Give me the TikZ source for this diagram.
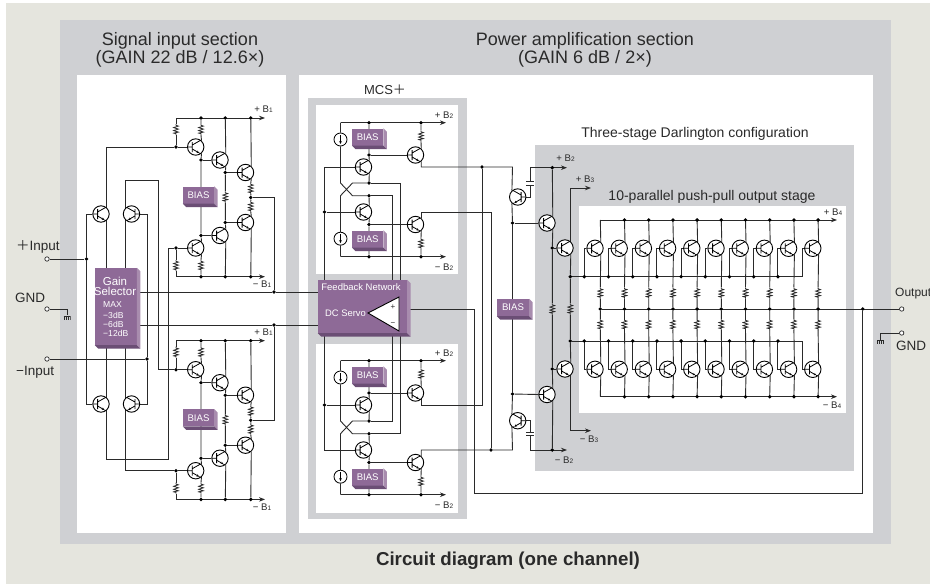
\documentclass[tikz,border=0pt]{standalone}
\usepackage{fontspec}
\setmainfont{Liberation Sans}
\newfontfamily\cjk{Noto Sans CJK JP}
\usetikzlibrary{arrows.meta}
\pgfdeclarelayer{panels}
\pgfdeclarelayer{wires}
\pgfsetlayers{panels,wires,main}
\definecolor{beige}{HTML}{E5E5DE}
\definecolor{panelgray}{HTML}{CFD0D3}
\definecolor{vio}{HTML}{8E6A97}
\definecolor{violt}{HTML}{A88CAE}
\definecolor{viodk}{HTML}{6B4E75}
\definecolor{ink}{HTML}{2A2A2A}
\tikzset{
  wire/.style={line width=.9pt,draw=ink},
  rail/.style={wire,-{Stealth[length=6pt,width=4.5pt]}},
  jn/.style={circle,fill=black,inner sep=0pt,minimum size=3.8pt},
  trans/.style={circle,draw=black,fill=white,line width=.9pt,inner sep=0pt,minimum size=16.4pt,
    path picture={
      \draw[line width=.8pt] (#1*-3.4,-5) -- (#1*-3.4,5) (#1*-8,0) -- (#1*-3.4,0) (#1*-3.4,-2) -- (#1*5.4,-7);
      \draw[line width=.8pt,-{Stealth[length=2.6pt,width=2.4pt]}] (#1*-3.4,2) -- (#1*3.4,5.9);
      \draw[line width=.8pt] (#1*3.4,5.9) -- (#1*5.4,7);
    }},
  res/.style={inner sep=0pt,minimum width=7pt,minimum height=11pt,
    path picture={
      \draw[line width=.8pt,draw=ink] (0,-5.5) -- (0,-4.2) -- (2.4,-3.4) -- (-2.4,-1.9) -- (2.4,-.4) -- (-2.4,1.1)
        -- (2.4,2.6) -- (-2.4,3.6) -- (0,4.2) -- (0,5.5);
    }},
  capv/.style={inner sep=0pt,minimum width=8pt,minimum height=4pt,
    path picture={\draw[line width=.9pt,draw=ink] (-4,-1.6) -- (4,-1.6) (-4,1.6) -- (4,1.6);}},
  csrc/.style={circle,draw=black,fill=white,line width=.8pt,inner sep=0pt,minimum size=13pt,
    path picture={\draw[line width=.8pt,-{Stealth[length=3pt,width=2.6pt]}] (0,-4.5) -- (0,4.5);}},
  term/.style={circle,draw=ink,fill=white,line width=.7pt,inner sep=0pt,minimum size=4.4pt},
  gnd/.style={inner sep=0pt,minimum width=7pt,minimum height=4pt,
    path picture={\draw[line width=.7pt,draw=ink] (-3.5,-1.6) -- (3.5,-1.6) (-3,-1.6) -- (-3,2) (-1,-1.6) -- (-1,2)
      (1,-1.6) -- (1,2) (3,-1.6) -- (3,2);}},
  biasbox/.style={fill=vio,text=white,inner sep=0pt,minimum width=31pt,minimum height=17pt,
    font=\fontsize{9.6}{10}\selectfont},
  lbl/.style={inner sep=0pt,text=ink,font=\fontsize{#1}{#1}\selectfont},
  wlbl/.style={inner sep=0pt,text=white,font=\fontsize{#1}{#1}\selectfont},
  bus/.style={lbl=9.6},
}
\newcommand{\bevel}[1]{%
  \fill[violt] (#1.north east) -- ++(3.5,3.5) -- ([shift={(3.5,3.5)}]#1.south east) -- (#1.south east) -- cycle;
  \fill[viodk] (#1.south west) -- ([shift={(3.5,3.5)}]#1.south west) -- ([shift={(3.5,3.5)}]#1.south east) -- (#1.south east) -- cycle;
}
\newcommand{\busl}[2]{#1 B{\fontsize{6.5}{6.5}\selectfont #2}}
\begin{document}
\begin{tikzpicture}[x=1pt,y=-1pt]
  \useasboundingbox (0,0) rectangle (930,584);
  \begin{pgfonlayer}{panels}
    \fill[white] (0,0) rectangle (930,584);
    \fill[beige] (6,3) rectangle (930,584);
    \fill[panelgray] (60,20) rectangle (891,544);
    \fill[white] (77,75) rectangle (286,533);
    \fill[white] (299,75) rectangle (873,533);
    \fill[panelgray] (308,98) rectangle (467,519);
    \fill[white] (316,105) rectangle (458,274);
    \fill[white] (316,344) rectangle (458,513);
    \fill[panelgray] (535,145) rectangle (854,471);
    \fill[white] (579,206) rectangle (846,413);
  \end{pgfonlayer}

  % titles
  \node[lbl=18] (tsig) at (180,41) {Signal input section};
  \node[lbl=18] (tsiggain) at (180,59) {(GAIN 22 dB / 12.6×)};
  \node[lbl=18] (tpow) at (585,41) {Power amplification section};
  \node[lbl=18] (tpowgain) at (585,59) {(GAIN 6 dB / 2×)};
  \node[lbl=13] (tmcs) at (385,90) {MCS{\cjk ＋}};
  \node[lbl=14] (tdar) at (695,134) {Three-stage Darlington configuration};
  \node[lbl=14] (tpar) at (712,197) {10-parallel push-pull output stage};
  \node[inner sep=0pt,text=ink,font=\fontsize{18.7}{19}\selectfont\bfseries] (tcap) at (508,561) {Circuit diagram (one channel)};

  % signal input: two amp modules
  \foreach \nm/\sh in {ampa/0,ampb/222.7}{
    \begin{scope}[shift={(0,\sh)},name prefix=\nm-]
      \node[trans=1] (q1) at (195.7,147) {};
      \node[trans=1] (q2) at (220,160) {};
      \node[trans=1] (q3) at (245.5,172.5) {};
      \node[trans=1] (q4) at (245.5,222.5) {};
      \node[trans=1] (q5) at (220,235.5) {};
      \node[trans=1] (q6) at (195.7,248) {};
      \node[biasbox] (bias) at (198.5,195) {BIAS};
      \bevel{bias}
      \coordinate (rt) at (176,118);
      \coordinate (tipt) at (265,118);
      \coordinate (rb) at (176,276.7);
      \coordinate (tipb) at (265,276.7);
      \node[jn] (jt1) at (201,118) {};
      \node[jn] (jt2) at (225.3,118) {};
      \node[jn] (jt3) at (250.8,118) {};
      \node[jn] (jb1) at (201,276.7) {};
      \node[jn] (jb2) at (225.3,276.7) {};
      \node[jn] (jb3) at (250.8,276.7) {};
      \node[jn] (jbase1) at (176,147) {};
      \node[jn] (jbase6) at (176,248) {};
      \node[jn] (j1) at (201,160) {};
      \node[jn] (j6) at (201,235.5) {};
      \node[jn] (j2) at (225.3,172.5) {};
      \node[jn] (j5) at (225.3,222.5) {};
      \node[jn] (jmid) at (250.8,197.5) {};
      \node[res] (r1) at (176,129.5) {};
      \node[res] (r2) at (201,129.5) {};
      \node[res] (r3) at (176,265.5) {};
      \node[res] (r4) at (201,265.5) {};
      \node[res] (r5) at (225.3,197) {};
      \node[res] (r6) at (250.8,188.5) {};
      \node[res] (r7) at (250.8,206.5) {};
      \node[bus] (lt) at (263.5,109.5) {\busl{+}{1}};
      \node[bus] (lb) at (262,284.5) {\busl{−}{1}};
      \begin{pgfonlayer}{wires}
        \draw[rail] (rt) -- (tipt);
        \draw[rail] (rb) -- (tipb);
        \draw[wire] (rt) -- (r1.north) (r1.south) -- (jbase1) -- (q1.west);
        \draw[wire] (jt1) -- (r2.north) (r2.south) -- (q1.48);
        \draw[wire] (q1.-48) -- (j1) -- (j6) -- (q6.48);
        \draw[wire] (j1) -- (q2.west);
        \draw[wire] (jt2) -- (q2.48);
        \draw[wire] (q2.-48) -- (j2) -- (r5.north) (r5.south) -- (j5) -- (q5.48);
        \draw[wire] (q5.-48) -- (jb2);
        \draw[wire] (j2) -- (q3.west);
        \draw[wire] (j5) -- (q4.west);
        \draw[wire] (j6) -- (q5.west);
        \draw[wire] (jt3) -- (q3.48);
        \draw[wire] (q3.-48) -- (r6.north) (r6.south) -- (jmid) -- (r7.north) (r7.south) -- (q4.48);
        \draw[wire] (q4.-48) -- (jb3);
        \draw[wire] (q6.-48) -- (r4.north) (r4.south) -- (jb1);
        \draw[wire] (jbase6) -- (q6.west);
        \draw[wire] (jbase6) -- (r3.north) (r3.south) -- (rb);
      \end{pgfonlayer}
    \end{scope}
  }

  % input pair and selector
  \node[trans=1] (qia) at (101,214) {};
  \node[trans=-1] (qib) at (131.5,214) {};
  \node[trans=1] (qic) at (101,404) {};
  \node[trans=-1] (qid) at (131.5,404) {};
  \node[fill=vio,inner sep=0pt,minimum width=41.7pt,minimum height=77pt] (gain) at (115.85,306.5) {};
  \bevel{gain}
  \node[wlbl=11.5] (gaina) at (115,281) {Gain};
  \node[wlbl=11.5] (gainb) at (115,291) {Selector};
  \node[wlbl=8.6,anchor=west] (gainc) at (103,305) {MAX};
  \node[wlbl=8.6,anchor=west] (gaind) at (103,315) {−3dB};
  \node[wlbl=8.6,anchor=west] (gaine) at (103,324) {−6dB};
  \node[wlbl=8.6,anchor=west] (gainf) at (103,333) {−12dB};
  \node[jn] (jinp) at (86.5,259) {};
  \node[jn] (jinn) at (147,359) {};
  \node[term] (tinp) at (47,259) {};
  \node[term] (tinn) at (47,359) {};
  \node[term] (tgndl) at (47,309) {};
  \node[gnd] (gndl) at (67,317.5) {};
  \node[lbl=13.5,anchor=west] (linp) at (16,247) {{\cjk ＋}Input};
  \node[lbl=13.5,anchor=west] (lgndl) at (15,298) {GND};
  \node[lbl=13.5,anchor=west] (linn) at (16,372) {−Input};
  \coordinate (cba) at (158,180);
  \coordinate (cca) at (168,459);
  \node[jn] (jsum1) at (274,292) {};
  \node[jn] (jsum2) at (274,325) {};

  % mcs modules
  \foreach \nm/\sh in {mcsa/0,mcsb/238}{
    \begin{scope}[shift={(0,\sh)},name prefix=\nm-]
      \node[trans=1] (qa) at (363.5,167) {};
      \node[trans=1] (qb) at (363.5,212) {};
      \node[trans=1] (qc) at (415.5,155) {};
      \node[trans=1] (qd) at (415.5,224.5) {};
      \node[csrc] (cs1) at (340.5,139.5) {};
      \node[csrc] (cs2) at (340.5,238.7) {};
      \node[biasbox] (bias1) at (367.7,137) {BIAS};
      \bevel{bias1}
      \node[biasbox] (bias2) at (367.7,239) {BIAS};
      \bevel{bias2}
      \coordinate (rt) at (340.5,122.7);
      \coordinate (tipt) at (446,122.7);
      \coordinate (rb) at (340.5,256.7);
      \coordinate (tipb) at (446,256.7);
      \node[jn] (jt1) at (369,122.7) {};
      \node[jn] (jt2) at (421,122.7) {};
      \node[jn] (jb1) at (369,256.7) {};
      \node[jn] (jb2) at (421,256.7) {};
      \node[jn] (jc) at (369,155) {};
      \node[jn] (jd) at (369,224.5) {};
      \node[jn] (jx1) at (369,183) {};
      \node[jn] (jx2) at (369,195.7) {};
      \coordinate (xa) at (340.5,183);
      \coordinate (xb) at (352.5,195.7);
      \coordinate (xc) at (340.5,195.7);
      \coordinate (xd) at (352.5,183);
      \node[res] (rc) at (421,136) {};
      \node[res] (rd) at (421,243.5) {};
      \node[bus] (lt) at (444,115.5) {\busl{+}{2}};
      \node[bus] (lb) at (444,267.5) {\busl{−}{2}};
      \begin{pgfonlayer}{wires}
        \draw[rail] (rt) -- (tipt);
        \draw[rail] (rb) -- (tipb);
        \draw[wire] (rt) -- (cs1) -- (xa) -- (xb) -- (jx2);
        \draw[wire] (rb) -- (cs2) -- (xc) -- (xd) -- (jx1);
        \draw[wire] (jt1) -- (jc) -- (qa.48);
        \draw[wire] (jc) -- (qc.west);
        \draw[wire] (qa.-48) -- (jx1);
        \draw[wire] (jx2) -- (qb.48);
        \draw[wire] (qb.-48) -- (jd) -- (jb1);
        \draw[wire] (jd) -- (qd.west);
        \draw[wire] (jt2) -- (rc.north) (rc.south) -- (qc.48);
        \draw[wire] (qd.-48) -- (rd.north) (rd.south) -- (jb2);
      \end{pgfonlayer}
    \end{scope}
  }

  % feedback block
  \node[fill=vio,inner sep=0pt,minimum width=89pt,minimum height=53pt] (fb) at (362.5,306.5) {};
  \bevel{fb}
  \node[wlbl=9.5] (fbtxt) at (361,286.7) {Feedback Network};
  \node[wlbl=9.4] (dcs) at (345.5,313) {DC Servo};
  \draw[fill=white,draw=black,line width=.9pt] (368,313) -- (399,297) -- (399,331) -- cycle;
  \node[lbl=8] (fbp) at (393,307) {+};
  \node[lbl=8] (fbm) at (393,324) {−};
  \coordinate (fbt) at (400,300);
  \coordinate (fbs) at (392,300);
  \node[jn] (jba) at (324.5,212) {};
  \node[jn] (jbb) at (324.5,405) {};

  % drivers
  \node[trans=-1] (qp) at (517.7,197) {};
  \node[trans=-1] (qq) at (517.7,420.7) {};
  \node[capv] (capa) at (530,183.4) {};
  \node[capv] (capb) at (530,433.7) {};
  \node[biasbox,minimum width=32pt] (biasm) at (513,307.5) {BIAS};
  \bevel{biasm}
  \node[jn] (j482) at (482,167) {};
  \node[jn] (j491) at (491,450) {};
  \node[jn] (jdrv1) at (512.5,223) {};
  \node[jn] (jdrv2) at (512.5,394) {};
  \coordinate (c482) at (482,405.2);
  \coordinate (c491) at (491,212);
  \coordinate (cdrt) at (512.5,167);
  \coordinate (cdrb) at (512.5,450);
  \coordinate (c530t) at (530,167.7);
  \coordinate (c530b) at (530,450);
  \coordinate (tipb2t) at (567,167.7);
  \coordinate (tipb2b) at (567,450);
  \coordinate (tipb3t) at (591,188);
  \coordinate (tipb3b) at (591,430.7);
  \node[trans=1] (qo1) at (547,223) {};
  \node[trans=1] (qo2) at (547,394.5) {};
  \node[trans=1] (qo3) at (565,248) {};
  \node[trans=1] (qo4) at (565,369) {};
  \node[jn] (jp2) at (552.3,167.7) {};
  \node[jn] (jn2) at (552.3,450) {};
  \node[jn] (jo1) at (552.3,248) {};
  \node[jn] (jo2) at (552.3,369) {};
  \node[jn] (jo3) at (570.3,276.7) {};
  \node[jn] (jo4) at (570.3,341) {};
  \node[res] (ro1) at (552.3,309) {};
  \node[res] (ro2) at (570.3,309) {};
  \node[bus] (lb2p) at (565.5,157.7) {\busl{+}{2}};
  \node[bus] (lb3p) at (585,179.3) {\busl{+}{3}};
  \node[bus] (lb3n) at (589,439) {\busl{−}{3}};
  \node[bus] (lb2n) at (564,460) {\busl{−}{2}};
  \node[bus] (lb4p) at (833,212) {\busl{+}{4}};
  \node[bus] (lb4n) at (832,405) {\busl{−}{4}};

  % output stage
  \foreach \i in {0,...,9}{
    \pgfmathsetmacro{\xq}{595+24.2*\i}
    \pgfmathsetmacro{\xe}{600.3+24.2*\i}
    \pgfmathsetmacro{\xb}{584.3+24.2*\i}
    \node[trans=1] (qu\i) at (\xq,248.3) {};
    \node[trans=1] (ql\i) at (\xq,369.3) {};
    \node[res] (ru\i) at (\xe,293) {};
    \node[res] (rl\i) at (\xe,324.5) {};
    \coordinate (jt\i) at (\xe,220);
    \coordinate (jb\i) at (\xe,396.7);
    \coordinate (ju\i) at (\xb,276.7);
    \coordinate (jl\i) at (\xb,341);
    \node[jn] (jm\i) at (\xe,309) {};
    \begin{pgfonlayer}{wires}
      \draw[wire] (jt\i) -- (qu\i.48);
      \draw[wire] (qu\i.-48) -- (ru\i.north) (ru\i.south) -- (jm\i) -- (rl\i.north) (rl\i.south) -- (ql\i.48);
      \draw[wire] (ql\i.-48) -- (jb\i);
      \draw[wire] (qu\i.west) -| (ju\i);
      \draw[wire] (ql\i.west) -| (jl\i);
    \end{pgfonlayer}
  }
  \foreach \i in {1,...,9}{
    \node[jn] (dt\i) at (jt\i) {};
    \node[jn] (db\i) at (jb\i) {};
  }
  \foreach \i in {0,...,8}{
    \node[jn] (du\i) at (ju\i) {};
    \node[jn] (dl\i) at (jl\i) {};
  }
  \coordinate (tipb4t) at (837,220);
  \coordinate (tipb4b) at (837,396.7);
  \node[jn] (jout) at (862.7,309) {};
  \node[term] (tout) at (901.7,309) {};
  \node[term] (tgndr) at (901.7,333) {};
  \node[gnd] (gndr) at (880.7,342) {};
  \node[lbl=12,anchor=west] (lout) at (895,294) {Output};
  \node[lbl=13.5,anchor=west] (lgndr) at (896,346) {GND};
  \coordinate (cfb) at (474.5,493);

  \begin{pgfonlayer}{wires}
    % input wiring
    \draw[wire] (ampa-jbase1) -| (qia.48);
    \draw[wire] (qia.-48) -- (qia.-48 |- gain.center);
    \draw[wire] (qib.132) |- (cba) -- (cba |- ampb-jbase1) -- (ampb-jbase1);
    \draw[wire] (qib.-132) -- (qib.-132 |- gain.center);
    \draw[wire] (qic.48) -- (qic.48 |- gain.center);
    \draw[wire] (qic.-48) |- (cca) -- (cca |- ampa-jbase6) -- (ampa-jbase6);
    \draw[wire] (qid.132) -- (qid.132 |- gain.center);
    \draw[wire] (qid.-132) |- (ampb-jbase6);
    \draw[wire] (qia.west) -| (jinp) |- (qic.west);
    \draw[wire] (qib.east) -| (jinn) |- (qid.east);
    \draw[wire] (tinp) -- (jinp);
    \draw[wire] (tinn) -- (jinn);
    \draw[wire] (tgndl) -| (gndl.north);
    \draw[wire] (gain) ++(0,-14.5) -- (jsum1) -- (fb.center |- jsum1);
    \draw[wire] (gain) ++(0,18.5) -- (jsum2) -- (fb.center |- jsum2);
    \draw[wire] (ampa-jmid) -| (jsum1);
    \draw[wire] (ampb-jmid) -| (jsum2);
    % mcs to feedback
    \draw[wire] (mcsa-qa.west) -| (jba);
    \draw[wire] (jba) -- (mcsa-qb.west);
    \draw[wire] (jba) -- (jba |- fb.center) -- (jbb);
    \draw[wire] (jbb) -- (mcsb-qa.west);
    \draw[wire] (jbb) |- (mcsb-qb.west);
    \draw[wire] (mcsa-jx1) -| (fbt);
    \draw[wire] (mcsa-jx2) -| (fbs);
    \draw[wire] (mcsb-jx1) -| (fbs);
    \draw[wire] (mcsb-jx2) -| (fbt);
    % mcs to drivers
    \draw[wire] (mcsa-qc.-48) |- (j482) -- (cdrt) -- (qp.132);
    \draw[wire] (j482) -- (c482) -| (mcsb-qc.-48);
    \draw[wire] (mcsa-qd.48) |- (c491) -- (j491);
    \draw[wire] (mcsb-qd.48) |- (j491) -- (cdrb) -- (qq.-132);
    \draw[wire] (qp.-132) -- (jdrv1) -- (jdrv2) -- (qq.132);
    \draw[wire] (jdrv1) -- (qo1.west);
    \draw[wire] (jdrv2) -- (qo2.west);
    \draw[wire] (qp.east) -| (capa.south);
    \draw[wire] (capa.north) -- (c530t);
    \draw[wire] (qq.east) -| (capb.north);
    \draw[wire] (capb.south) -- (c530b);
    \draw[rail] (c530t) -- (tipb2t);
    \draw[rail] (c530b) -- (tipb2b);
    \draw[wire] (jp2) -- (qo1.48);
    \draw[wire] (qo1.-48) -- (jo1) -- (ro1.north) (ro1.south) -- (jo2) -- (qo2.48);
    \draw[wire] (qo2.-48) -- (jn2);
    \draw[wire] (jo1) -- (qo3.west);
    \draw[wire] (jo2) -- (qo4.west);
    \draw[rail] (qo3.48) |- (tipb3t);
    \draw[rail] (qo4.-48) |- (tipb3b);
    \draw[wire] (qo3.-48) -- (jo3) -- (ro2.north) (ro2.south) -- (jo4) -- (qo4.48);
    % output rails
    \draw[rail] (jt0) -- (tipb4t);
    \draw[rail] (jb0) -- (tipb4b);
    \draw[wire] (jo3) -- (ju9);
    \draw[wire] (jo4) -- (jl9);
    \draw[wire] (jm0) -- (tout);
    \draw[wire] (fb.center |- jout) -| (cfb) -| (jout);
    \draw[wire] (tgndr) -| (gndr.north);
  \end{pgfonlayer}
\end{tikzpicture}
\end{document}
